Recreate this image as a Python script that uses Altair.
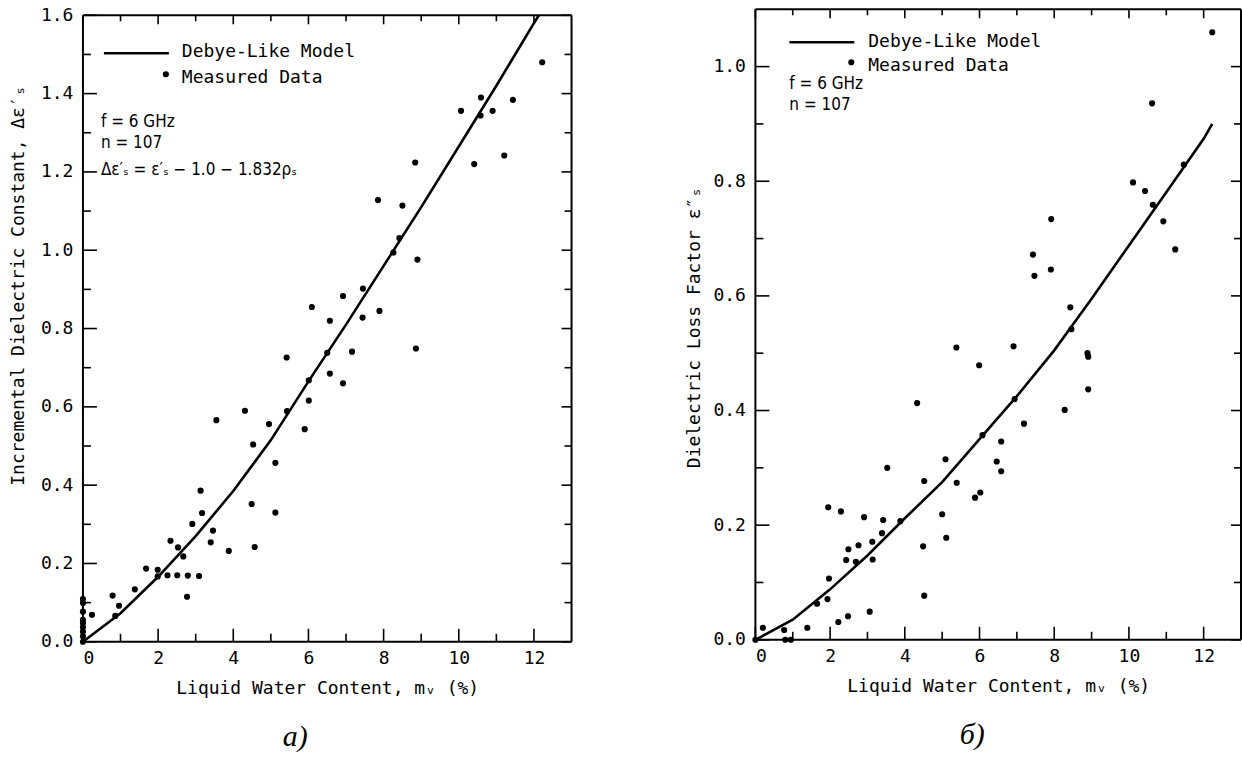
import altair as alt
import pandas as pd

# ---------------- Panel a) : incremental dielectric constant ----------------
a_mx = [0, 0, 0, 0, 0, 0, 0, 0, 0,
        0.24, 0.79, 0.96, 0.86, 1.38, 1.68, 1.99, 1.99, 2.25, 2.51, 2.79, 3.09, 2.77,
        2.33, 2.53, 2.67, 2.91, 3.13, 3.17, 3.46, 3.40, 3.88, 3.55, 4.31, 4.49, 4.53,
        4.57, 4.95, 5.12, 5.12, 5.42, 5.43, 5.90, 6.01, 6.01, 6.09, 6.50, 6.57, 6.57,
        6.92, 6.92, 7.16, 7.44, 7.45, 7.85, 7.89, 8.26, 8.42, 8.50, 8.84, 8.86, 8.90,
        10.06, 10.41, 10.58, 10.59, 10.90, 11.21, 11.44, 12.22]
a_my = [0.109, 0.099, 0.077, 0.056, 0.048, 0.037, 0.026, 0.014, 0.0,
        0.069, 0.118, 0.092, 0.066, 0.134, 0.187, 0.184, 0.167, 0.170, 0.170, 0.169, 0.168, 0.115,
        0.258, 0.241, 0.218, 0.301, 0.386, 0.329, 0.284, 0.254, 0.232, 0.566, 0.590, 0.352, 0.504,
        0.242, 0.556, 0.457, 0.330, 0.726, 0.589, 0.543, 0.668, 0.616, 0.855, 0.738, 0.685, 0.820,
        0.660, 0.883, 0.741, 0.828, 0.902, 1.128, 0.845, 0.994, 1.031, 1.114, 1.224, 0.749, 0.976,
        1.356, 1.220, 1.344, 1.390, 1.356, 1.242, 1.384, 1.480]
a_cx = [0, 1, 2, 3, 4, 5, 6, 7, 8, 9, 10, 11, 12, 12.13]
a_cy = [0, 0.073, 0.166, 0.27, 0.385, 0.515, 0.665, 0.81, 0.96, 1.11, 1.265, 1.42, 1.58, 1.6]

# ---------------- Panel б) : dielectric loss factor ----------------
b_mx = [0, 0.20, 0.77, 0.80, 0.95, 1.39, 1.65, 1.93, 1.97, 1.95, 2.22, 2.29, 2.43, 2.48,
        2.49, 2.69, 2.76, 2.91, 3.06, 3.13, 3.14, 3.39, 3.42, 3.53, 3.88, 4.33, 4.49, 4.52,
        4.52, 5.00, 5.09, 5.11, 5.38, 5.39, 5.88, 5.99, 6.02, 6.08, 6.46, 6.58, 6.58, 6.91,
        6.94, 7.19, 7.43, 7.47, 7.91, 7.92, 8.28, 8.43, 8.46, 8.89, 8.91, 8.91, 10.11, 10.43,
        10.62, 10.64, 10.92, 11.24, 11.47, 12.23]
b_my = [0, 0.021, 0.017, 0.0, 0.0, 0.021, 0.063, 0.071, 0.107, 0.231, 0.031, 0.224, 0.139, 0.041,
        0.158, 0.136, 0.165, 0.214, 0.049, 0.171, 0.140, 0.186, 0.209, 0.300, 0.207, 0.413, 0.163, 0.277,
        0.077, 0.219, 0.315, 0.178, 0.510, 0.274, 0.248, 0.479, 0.257, 0.357, 0.311, 0.346, 0.294, 0.512,
        0.420, 0.377, 0.672, 0.635, 0.646, 0.734, 0.401, 0.580, 0.542, 0.500, 0.494, 0.437, 0.798, 0.783,
        0.936, 0.759, 0.730, 0.681, 0.829, 1.060]
b_cx = [0, 1, 2, 3, 4, 5, 6, 7, 8, 9, 10, 11, 12, 12.23]
b_cy = [0, 0.035, 0.088, 0.147, 0.212, 0.275, 0.35, 0.425, 0.505, 0.595, 0.688, 0.781, 0.874, 0.9]

# ticks
x_major = [0, 2, 4, 6, 8, 10, 12]
x_minor = [1, 3, 5, 7, 9, 11]
a_y_major = [0.0, 0.2, 0.4, 0.6, 0.8, 1.0, 1.2, 1.4, 1.6]
a_y_minor = [0.1, 0.3, 0.5, 0.7, 0.9, 1.1, 1.3, 1.5]
b_y_major = [0.0, 0.2, 0.4, 0.6, 0.8, 1.0]
b_y_minor = [0.1, 0.3, 0.5, 0.7, 0.9]

x_title = "Liquid Water Content, mᵥ (%)"
a_y_title = "Incremental Dielectric Constant, Δε′ₛ"
b_y_title = "Dielectric Loss Factor ε″ₛ"
legend_line = "Debye-Like Model"
legend_dot = "Measured Data"

MONO = "DejaVu Sans Mono"
ANN = "DejaVu Sans Condensed, Liberation Sans Narrow, DejaVu Sans"
FS = 18


def panel(mx, my, cx, cy, xdom, ydom, ymaj, ymin, W, H, top, ytitle, ytx, yty,
          leg, notes, caption, cap_dx):
    xs = alt.Scale(domain=xdom, nice=False, zero=False)
    ys = alt.Scale(domain=ydom, nice=False, zero=False, range=[H, top])
    xax = alt.Axis(
        values=x_major, format="d", title=x_title, grid=False, domain=False,
        ticks=False, tickSize=0, labelPadding=8, labelFont=MONO, labelFontSize=FS,
        labelColor="black", titleFont=MONO, titleFontSize=FS, titleFontWeight="normal",
        titleColor="black", titleY=47, titleBaseline="middle")
    yax = alt.Axis(
        values=ymaj, format=".1f", title=ytitle, grid=False, domain=False,
        ticks=False, tickSize=0, labelPadding=10, labelFont=MONO, labelFontSize=FS,
        labelColor="black", titleFont=MONO, titleFontSize=FS, titleFontWeight="normal",
        titleColor="black", titleX=ytx, titleY=yty, titleBaseline="middle",
        titleAngle=-90, titleAlign="center")

    pts = alt.Chart(pd.DataFrame({"x": mx, "y": my})).mark_circle(
        size=38, color="black", opacity=1).encode(
        x=alt.X("x:Q", scale=xs, axis=xax),
        y=alt.Y("y:Q", scale=ys, axis=yax),
    )
    curve = alt.Chart(pd.DataFrame({"x": cx, "y": cy})).mark_line(
        color="black", strokeWidth=2.6).encode(
        x=alt.X("x:Q", scale=xs, axis=xax), y=alt.Y("y:Q", scale=ys, axis=yax))

    layers = [pts, curve]

    def xr(vals, ya, yb):
        return alt.Chart(pd.DataFrame({"x": vals})).mark_rule(
            color="black", strokeWidth=1.6).encode(
            x=alt.X("x:Q", scale=xs, axis=xax), y=alt.value(ya), y2=alt.value(yb))

    def yr(vals, xa, xb):
        return alt.Chart(pd.DataFrame({"y": vals})).mark_rule(
            color="black", strokeWidth=1.6).encode(
            y=alt.Y("y:Q", scale=ys, axis=yax), x=alt.value(xa), x2=alt.value(xb))

    layers += [xr(x_major, H, H - 13), xr(x_minor, H, H - 8),
               xr(x_major, top, top + 9), xr(x_minor, top, top + 6),
               yr(ymaj, 0, 14), yr(ymin, 0, 8),
               yr(ymaj, W, W - 10), yr(ymin, W, W - 7)]

    # frame
    one = pd.DataFrame({"a": [0]})
    frame = alt.Chart(one).mark_rule(color="black", strokeWidth=2)
    layers += [
        frame.encode(x=alt.value(0), x2=alt.value(W), y=alt.value(top)),
        frame.encode(x=alt.value(0), x2=alt.value(W), y=alt.value(H)),
        frame.encode(x=alt.value(0), y=alt.value(top), y2=alt.value(H)),
        frame.encode(x=alt.value(W), y=alt.value(top), y2=alt.value(H)),
    ]

    lx0, lx1, ly, tx, ty1, dx, ty2 = leg
    layers.append(alt.Chart(one).mark_rule(
        color="black", strokeWidth=2.6).encode(
        x=alt.value(lx0), x2=alt.value(lx1), y=alt.value(ly)))
    layers.append(alt.Chart(one).mark_circle(
        size=38, color="black", opacity=1).encode(x=alt.value(dx), y=alt.value(ty2 - 2)))
    layers.append(alt.Chart(pd.DataFrame({"t": [legend_line]})).mark_text(
        font=MONO, fontSize=FS, align="left", baseline="middle", color="black").encode(
        text="t:N", x=alt.value(tx), y=alt.value(ty1)))
    layers.append(alt.Chart(pd.DataFrame({"t": [legend_dot]})).mark_text(
        font=MONO, fontSize=FS, align="left", baseline="middle", color="black").encode(
        text="t:N", x=alt.value(tx), y=alt.value(ty2 + 2)))
    for (nx, ny, txt) in notes:
        layers.append(alt.Chart(pd.DataFrame({"t": [txt]})).mark_text(
            font=ANN, fontSize=17, align="left", baseline="middle", color="black").encode(
            text="t:N", x=alt.value(nx), y=alt.value(ny)))

    return alt.layer(*layers).properties(
        width=W, height=H,
        title=alt.TitleParams(caption, orient="bottom", font="Liberation Serif",
                              fontStyle="italic", fontWeight="normal", fontSize=30,
                              color="black", offset=24, dx=cap_dx))


left = panel(a_mx, a_my, a_cx, a_cy, [0, 13], [0, 1.6], a_y_major, a_y_minor,
             489, 633, 6, a_y_title, -64, 276,
             (21, 86, 44, 99, 43, 83, 67),
             [(18, 113, "f = 6 GHz"), (18, 134, "n = 107"),
              (18, 161, "Δε′ₛ = ε′ₛ − 1.0 − 1.832ρₛ")],
             "а)", -32)
right = panel(b_mx, b_my, b_cx, b_cy, [0, 13], [0, 1.1], b_y_major, b_y_minor,
              486, 631, 0, b_y_title, -61, 318,
              (34, 99, 33, 113, 33, 96, 55),
              [(34, 75, "f = 6 GHz"), (34, 96, "n = 107")],
              "б)", -26)

chart = alt.hconcat(left, right, spacing=113).configure(
    padding={"left": 10, "top": 6, "right": 0, "bottom": 0}, background="white"
).configure_view(stroke="transparent", strokeWidth=0)

chart.save("out.html", embed_options={"renderer": "svg", "actions": False})
